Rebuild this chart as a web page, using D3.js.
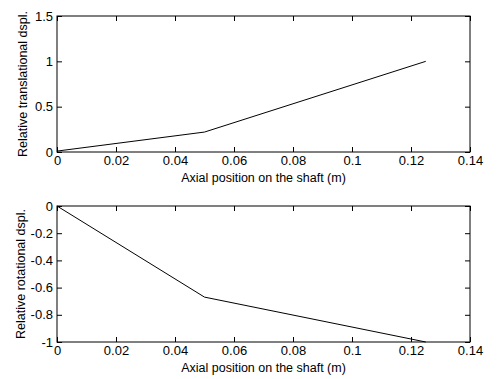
<!DOCTYPE html>
<html><head><meta charset="utf-8">
<script src="https://cdn.jsdelivr.net/npm/d3@7"></script>
<style>body{margin:0;background:#fff}svg{display:block}text{font-family:"Liberation Sans",Arial,sans-serif}</style>
</head><body>
<svg id="c" width="499" height="379"></svg>
<script>
const xPos = [0, 0.05, 0.125];
const transDispl = [0.01, 0.22, 1.0];
const rotDispl = [0, -0.67, -1.0];
const xTicks = [0, 0.02, 0.04, 0.06, 0.08, 0.1, 0.12, 0.14];
const yTicksTop = [0, 0.5, 1, 1.5];
const yTicksBot = [0, -0.2, -0.4, -0.6, -0.8, -1];
const xLabel = "Axial position on the shaft (m)";
const yLabelTop = "Relative translational dspl.";
const yLabelBot = "Relative rotational dspl.";

const svg = d3.select("#c");
const L = 57, R = 470;
const x = d3.scaleLinear().domain([0, 0.14]).range([L, R]);
const fmt = d => String(d);

function panel(top, bottom, ydom, yticks, vals, ylab, ylabX) {
  const y = d3.scaleLinear().domain(ydom).range([bottom, top]);
  const g = svg.append("g");
  g.append("rect").attr("x", L).attr("y", top).attr("width", R - L).attr("height", bottom - top)
    .attr("fill", "none").attr("stroke", "#000").attr("stroke-width", 1);
  const ax = d3.axisBottom(x).tickValues(xTicks).tickSize(-5).tickPadding(4).tickFormat(fmt);
  g.append("g").attr("transform", `translate(0,${bottom})`).call(ax);
  g.append("g").attr("transform", `translate(0,${top})`).call(d3.axisTop(x).tickValues(xTicks).tickSize(-5).tickFormat(""));
  g.append("g").attr("transform", `translate(${L},0)`).call(d3.axisLeft(y).tickValues(yticks).tickSize(-5).tickPadding(4).tickFormat(fmt));
  g.append("g").attr("transform", `translate(${R},0)`).call(d3.axisRight(y).tickValues(yticks).tickSize(-5).tickFormat(""));
  g.selectAll(".domain").remove();
  g.selectAll(".tick line").attr("stroke", "#000");
  g.selectAll(".tick text").attr("font-size", 13).attr("fill", "#000").attr("font-family", "Liberation Sans, Arial, sans-serif");
  const line = d3.line().x((d, i) => x(xPos[i])).y(d => y(d));
  g.append("path").datum(vals).attr("d", line).attr("fill", "none").attr("stroke", "#000").attr("stroke-width", 1);
  g.append("text").attr("x", (L + R) / 2).attr("y", bottom + 30).attr("text-anchor", "middle")
    .attr("font-size", 12.5).text(xLabel);
  g.append("text").attr("transform", `translate(${ylabX},${(top + bottom) / 2}) rotate(-90)`)
    .attr("text-anchor", "middle").attr("font-size", 12.5).text(ylab);
}
panel(16, 152, [0, 1.5], yTicksTop, transDispl, yLabelTop, 27);
panel(206, 342, [-1, 0], yTicksBot, rotDispl, yLabelBot, 25);
</script>
</body></html>
